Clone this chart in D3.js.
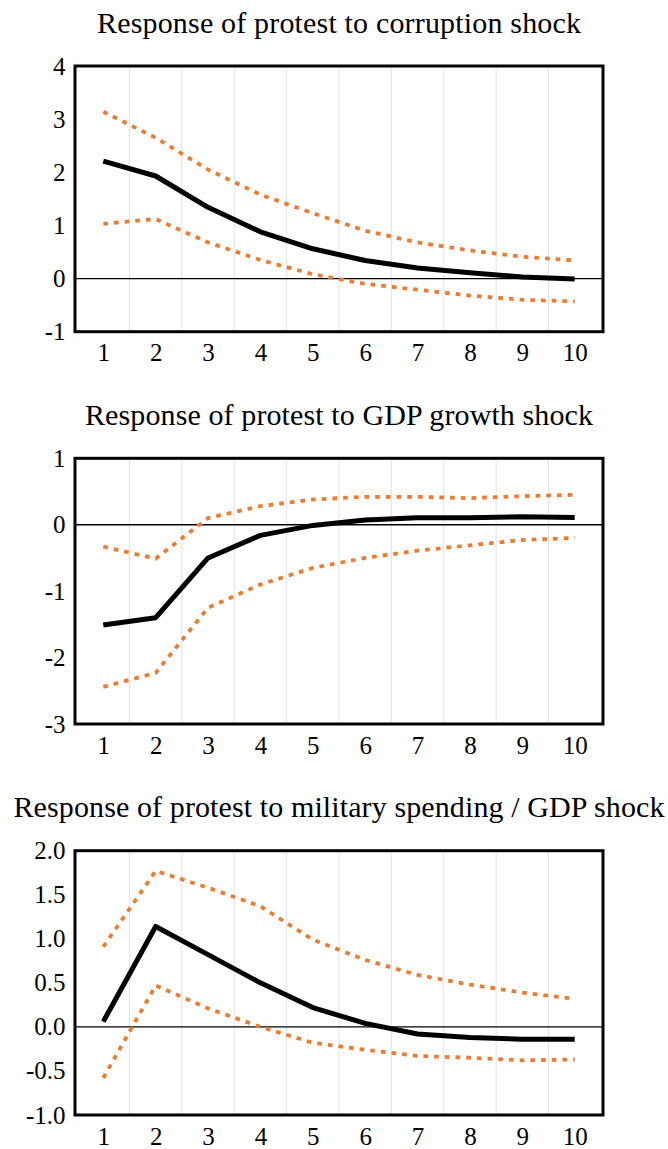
<!DOCTYPE html>
<html>
<head>
<meta charset="utf-8">
<script src="https://cdn.jsdelivr.net/npm/d3@7"></script>
<style>
  html, body { margin: 0; padding: 0; background: #ffffff; }
  svg { display: block; }
</style>
</head>
<body>
<script>
// Forecast horizons (periods after the shock)
const periods = ["1", "2", "3", "4", "5", "6", "7", "8", "9", "10"];

// Panel titles
const titles = [
  "Response of protest to corruption shock",
  "Response of protest to GDP growth shock",
  "Response of protest to military spending / GDP shock"
];

// Impulse responses: point estimate with upper / lower confidence bands
const corruptionMid   = [2.21, 1.93, 1.34, 0.88, 0.56, 0.34, 0.20, 0.11, 0.03, -0.01];
const corruptionUpper = [3.14, 2.65, 2.05, 1.58, 1.23, 0.90, 0.68, 0.53, 0.41, 0.34];
const corruptionLower = [1.03, 1.12, 0.68, 0.35, 0.08, -0.10, -0.21, -0.32, -0.40, -0.43];

const gdpMid   = [-1.51, -1.40, -0.50, -0.16, -0.01, 0.07, 0.105, 0.105, 0.12, 0.11];
const gdpUpper = [-0.33, -0.51, 0.10, 0.28, 0.38, 0.42, 0.42, 0.40, 0.43, 0.45];
const gdpLower = [-2.44, -2.23, -1.25, -0.90, -0.65, -0.50, -0.39, -0.31, -0.23, -0.20];

const militaryMid   = [0.06, 1.14, 0.82, 0.50, 0.22, 0.04, -0.08, -0.12, -0.14, -0.14];
const militaryUpper = [0.91, 1.77, 1.58, 1.37, 0.99, 0.76, 0.59, 0.48, 0.39, 0.32];
const militaryLower = [-0.58, 0.47, 0.21, 0.00, -0.18, -0.26, -0.33, -0.35, -0.38, -0.37];

// Y axis domains and tick labels
const corruptionDomain = [-1, 4];
const corruptionTicks  = [-1, 0, 1, 2, 3, 4];
const gdpDomain = [-3, 1];
const gdpTicks  = [-3, -2, -1, 0, 1];
const militaryDomain = [-1, 2];
const militaryTicks  = [-1.0, -0.5, 0.0, 0.5, 1.0, 1.5, 2.0];

// plain hyphen for negative numbers
const intFmt = v => d3.format("d")(v).replace("\u2212", "-");
const oneDecFmt = v => d3.format(".1f")(v).replace("\u2212", "-");

const panels = [
  { title: titles[0], mid: corruptionMid, upper: corruptionUpper, lower: corruptionLower,
    domain: corruptionDomain, ticks: corruptionTicks, fmt: intFmt },
  { title: titles[1], mid: gdpMid, upper: gdpUpper, lower: gdpLower,
    domain: gdpDomain, ticks: gdpTicks, fmt: intFmt },
  { title: titles[2], mid: militaryMid, upper: militaryUpper, lower: militaryLower,
    domain: militaryDomain, ticks: militaryTicks, fmt: oneDecFmt }
];

// Layout
const W = 668, H = 1149;
const plotLeft = 75, plotRight = 603;
const plotTops = [66, 458.3, 850.7];
const plotHeights = [265.7, 265.7, 264.3];
const titleBaselines = [33.3, 425, 816.7];
const titleWidths = [484, 508, 651];
const centerX = (plotLeft + plotRight) / 2;

const FONT = "Liberation Serif";
const ORANGE = "#E97D31";

const svg = d3.select("body").append("svg")
  .attr("width", W).attr("height", H);

const x = d3.scalePoint().domain(periods).range([plotLeft, plotRight]).padding(0.54);

panels.forEach((p, i) => {
  const top = plotTops[i], bottom = top + plotHeights[i];
  const y = d3.scaleLinear().domain(p.domain).range([bottom, top]);
  const g = svg.append("g");

  // title
  g.append("text")
    .attr("x", centerX).attr("y", titleBaselines[i])
    .attr("text-anchor", "middle")
    .style("font-family", FONT)
    .style("font-size", "30px")
    .attr("textLength", titleWidths[i])
    .attr("lengthAdjust", "spacing")
    .attr("fill", "#000")
    .text(p.title);

  // vertical gridlines between periods
  const step = x.step();
  g.append("g").selectAll("line")
    .data(periods.slice(0, -1))
    .join("line")
    .attr("x1", d => x(d) + step / 2).attr("x2", d => x(d) + step / 2)
    .attr("y1", top).attr("y2", bottom)
    .attr("stroke", "#e3e3e3").attr("stroke-width", 1);

  // zero line
  g.append("line")
    .attr("x1", plotLeft).attr("x2", plotRight)
    .attr("y1", y(0)).attr("y2", y(0))
    .attr("stroke", "#000").attr("stroke-width", 1.3);

  const line = d3.line().x((d, j) => x(periods[j])).y(d => y(d));

  // confidence bands
  [p.upper, p.lower].forEach(band => {
    g.append("path")
      .attr("d", line(band))
      .attr("fill", "none")
      .attr("stroke", ORANGE)
      .attr("stroke-width", 3.8)
      .attr("stroke-dasharray", "4.7,6");
  });

  // point estimate
  g.append("path")
    .attr("d", line(p.mid))
    .attr("fill", "none")
    .attr("stroke", "#000")
    .attr("stroke-width", 5)
    .attr("stroke-linejoin", "round");

  // frame
  g.append("rect")
    .attr("x", plotLeft).attr("y", top)
    .attr("width", plotRight - plotLeft).attr("height", bottom - top)
    .attr("fill", "none").attr("stroke", "#000").attr("stroke-width", 3);

  // y axis labels
  const ya = g.append("g")
    .attr("transform", `translate(${plotLeft},0)`)
    .call(d3.axisLeft(y).tickValues(p.ticks).tickSize(0).tickPadding(9.5).tickFormat(p.fmt));
  ya.select(".domain").remove();
  ya.attr("font-family", null).attr("font-size", null);
  ya.selectAll("text")
    .style("font-family", FONT).style("font-size", "25px").attr("fill", "#000")
    .attr("dy", "0.32em");

  // x axis labels
  const xa = g.append("g")
    .attr("transform", `translate(0,${bottom})`)
    .call(d3.axisBottom(x).tickSize(0).tickPadding(12));
  xa.select(".domain").remove();
  xa.attr("font-family", null).attr("font-size", null);
  xa.selectAll("text")
    .style("font-family", FONT).style("font-size", "25px").attr("fill", "#000");
});
</script>
</body>
</html>
